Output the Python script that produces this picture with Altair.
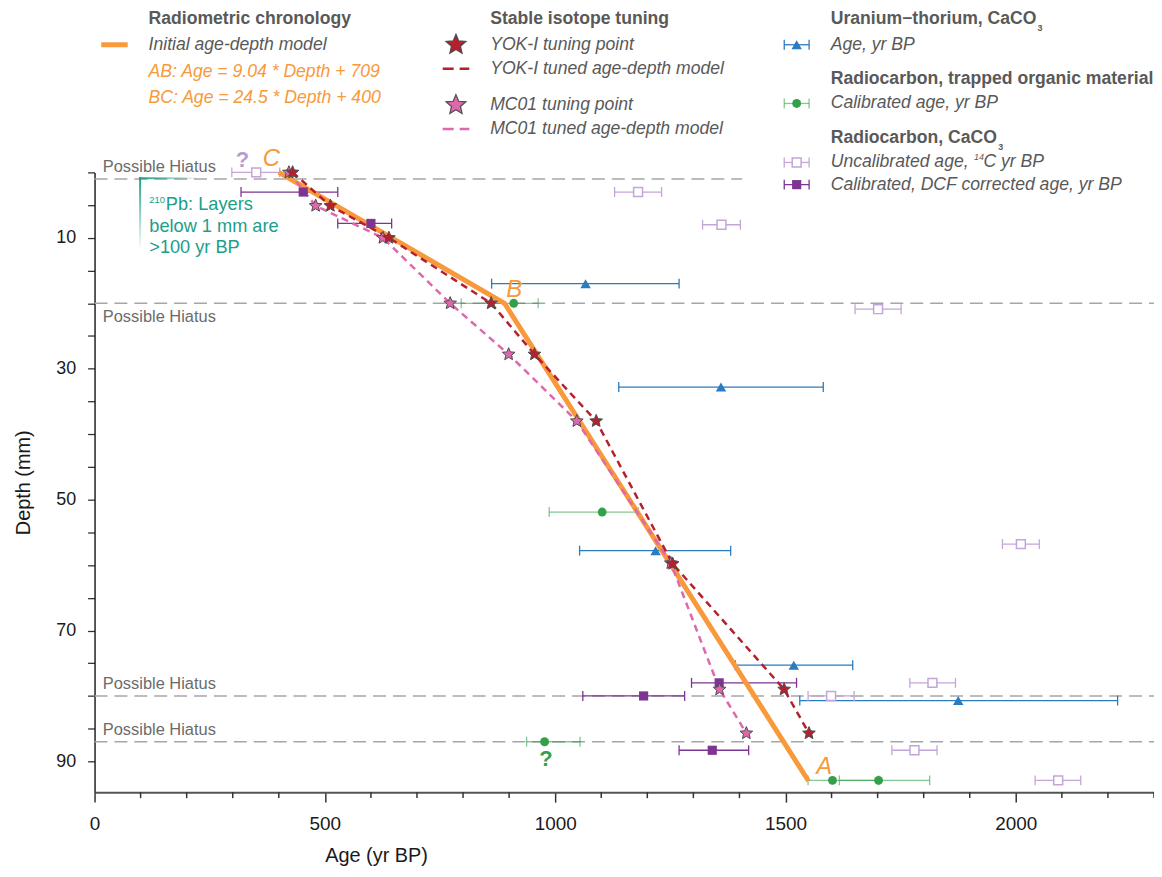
import math
import altair as alt
import pandas as pd

FONT = "Liberation Sans"
GRAY = "#595959"
ORANGE = "#F8993C"
RED = "#B61F2E"
PINK = "#DF68AC"
BLUE = "#2A7BC0"
GREEN = "#33A04A"
LILAC = "#C4A5D8"
PURPLE = "#7D3592"
TEAL = "#1B9E8A"
HIATUS = "#A6A6A6"
STAR_EDGE = "#4d4d4d"

# ---------------- data ----------------
model_age = [400, 890, 1550]
model_depth = [0, 20, 93]

yok_age = [430, 512, 639, 861, 955, 1089, 1255, 1497, 1551]
yok_depth = [0, 5.1, 10, 20, 27.8, 38, 59.8, 79, 85.7]

mc_age = [422, 480, 626, 772, 899, 1047, 1251, 1357, 1415]
mc_depth = [0, 5.1, 10, 20, 27.8, 38, 59.7, 79, 85.7]

uth_age = [1066, 1360, 1218, 1518, 1875]
uth_depth = [17, 32.8, 57.8, 75.3, 80.7]
uth_lo = [862, 1138, 1053, 1391, 1531]
uth_hi = [1269, 1582, 1381, 1646, 2221]

org_age = [910, 1102, 977, 1602, 1702]
org_depth = [20, 51.9, 87, 92.9, 92.9]
org_lo = [796, 987, 938, 1549, 1617]
org_hi = [963, 1180, 1054, 1702, 1813]

unc_age = [351, 1180, 1361, 1701, 2011, 1819, 1599, 1780, 2092]
unc_depth = [0, 3, 8, 20.9, 56.8, 78, 80, 88.3, 92.9]
unc_lo = [298, 1129, 1320, 1651, 1971, 1770, 1549, 1731, 2042]
unc_hi = [402, 1231, 1402, 1751, 2051, 1869, 1649, 1829, 2141]

dcf_age = [453, 600, 1356, 1192, 1341]
dcf_depth = [3, 7.8, 78, 80, 88.3]
dcf_lo = [318, 528, 1296, 1060, 1269]
dcf_hi = [528, 645, 1524, 1281, 1420]

hiatus_depth = [1, 20, 80, 87]
hiatus_end = [1406, 2300, 2300, 2300]
hiatus_side = ["above", "below", "above", "above"]

letter_text = ["C", "B", "A"]
letter_age = [384, 911, 1584]
letter_depth = [-2.0, 17.9, 90.8]

q_age = [321, 980]
q_depth = [-1.9, 89.6]

x_major = [0, 500, 1000, 1500, 2000]
x_minor = [100, 200, 300, 400, 600, 700, 800, 900, 1100, 1200, 1300, 1400,
           1600, 1700, 1800, 1900, 2100, 2200, 2300]
y_ticks = [0, 5, 10, 15, 20, 25, 30, 35, 40, 45, 50, 55, 60, 65, 70, 75, 80, 85, 90]


def star_path(inner=0.45):
    pts = []
    for k in range(10):
        r = 1.0 if k % 2 == 0 else inner
        a = math.radians(-90 + 36 * k)
        pts.append(f"{r * math.cos(a):.4f},{r * math.sin(a):.4f}")
    return "M" + "L".join(pts) + "Z"


STAR = star_path()

W, H = 1065, 623
xs = alt.Scale(domain=[0, 2300], nice=False, zero=False)
ys = alt.Scale(domain=[0, 94.7], nice=False, zero=False, reverse=True)

xaxis = alt.Axis(values=x_major, format="d", title="Age (yr BP)", tickSize=10, tickWidth=1.5,
                 tickColor="#333333", domainColor="#555555", domainWidth=2,
                 labelFont=FONT, labelFontSize=19, labelColor="#1a1a1a", labelPadding=12.5,
                 labelFlush=False, labelOverlap=False, grid=False,
                 titleFont=FONT, titleFontSize=20, titleFontWeight="normal",
                 titleColor="#1a1a1a", titleX=283, titleY=64,
                 titleBaseline="middle", titleAlign="center")
yaxis = alt.Axis(values=y_ticks, labelExpr="datum.value % 20 == 10 ? datum.label : ''",
                 title="Depth (mm)", tickSize=7, tickWidth=1.3, tickColor="#333333",
                 domainColor="#222222", domainWidth=1.5,
                 labelFont=FONT, labelFontSize=18, labelColor="#1a1a1a", labelPadding=12,
                 labelFlush=False, labelOverlap=False, grid=False,
                 titleFont=FONT, titleFontSize=20, titleFontWeight="normal",
                 titleColor="#1a1a1a", titleX=-71, titleY=311.5, titleAngle=270,
                 titleBaseline="middle", titleAlign="center")


def X(f):
    return alt.X(f, type="quantitative", scale=xs, axis=xaxis)


def Y(f):
    return alt.Y(f, type="quantitative", scale=ys, axis=yaxis)


layers = []

# hiatus lines
df_h = pd.DataFrame({"depth": hiatus_depth, "end": hiatus_end, "side": hiatus_side,
                     "start": [0] * len(hiatus_depth)})
layers.append(alt.Chart(df_h).mark_rule(color=HIATUS, strokeWidth=1.5, strokeDash=[13, 7])
              .encode(x=X("start"), x2="end", y=Y("depth")))
layers.append(alt.Chart(df_h).transform_filter("datum.side == 'above'")
              .mark_text(text="Possible Hiatus", font=FONT, fontSize=16.5, color="#6b6b6b",
                         align="left", baseline="alphabetic", dy=-6.5)
              .encode(x=alt.value(8.3), y=Y("depth")))
layers.append(alt.Chart(df_h).transform_filter("datum.side == 'below'")
              .mark_text(text="Possible Hiatus", font=FONT, fontSize=16.5, color="#6b6b6b",
                         align="left", baseline="alphabetic", dy=19)
              .encode(x=alt.value(8.3), y=Y("depth")))

# minor x ticks
df_minor = pd.DataFrame({"v": x_minor})
layers.append(alt.Chart(df_minor).mark_rule(color="#333333", strokeWidth=1.5)
              .encode(x=X("v"), y=alt.value(H), y2=alt.value(H + 6)))


def errbars(age, depth, lo, hi, color, opacity=1.0):
    df = pd.DataFrame({"age": age, "depth": depth, "lo": lo, "hi": hi})
    r = (alt.Chart(df).mark_rule(color=color, strokeWidth=1.3, opacity=opacity)
         .encode(x=X("lo"), x2="hi", y=Y("depth")))
    c = (alt.Chart(df).transform_fold(["lo", "hi"], as_=["end", "val"])
         .mark_tick(orient="vertical", color=color, size=10, thickness=1.3, opacity=opacity)
         .encode(x=X("val"), y=Y("depth")))
    return df, [r, c]


df_uth, l = errbars(uth_age, uth_depth, uth_lo, uth_hi, BLUE)
layers += l
df_org, l = errbars(org_age, org_depth, org_lo, org_hi, GREEN, 0.6)
layers += l
df_unc, l = errbars(unc_age, unc_depth, unc_lo, unc_hi, LILAC)
layers += l
df_dcf, l = errbars(dcf_age, dcf_depth, dcf_lo, dcf_hi, PURPLE)
layers += l

# age-depth models
df_model = pd.DataFrame({"age": model_age, "depth": model_depth})
layers.append(alt.Chart(df_model).mark_line(color=ORANGE, strokeWidth=5)
              .encode(x=X("age"), y=Y("depth")))
df_mc = pd.DataFrame({"age": mc_age, "depth": mc_depth})
df_yok = pd.DataFrame({"age": yok_age, "depth": yok_depth})
layers.append(alt.Chart(df_mc).mark_line(color=PINK, strokeWidth=2.5, strokeDash=[7, 5])
              .encode(x=X("age"), y=Y("depth")))
layers.append(alt.Chart(df_yok).mark_line(color=RED, strokeWidth=2.5, strokeDash=[7, 5])
              .encode(x=X("age"), y=Y("depth")))

# point markers
layers.append(alt.Chart(df_uth).mark_point(shape="triangle-up", filled=True, color=BLUE,
                                           size=110, opacity=1)
              .encode(x=X("age"), y=Y("depth")))
layers.append(alt.Chart(df_org).mark_circle(color=GREEN, size=80, opacity=1)
              .encode(x=X("age"), y=Y("depth")))
layers.append(alt.Chart(df_unc).mark_square(fill="white", stroke=LILAC, strokeWidth=1.5,
                                            size=80, opacity=1)
              .encode(x=X("age"), y=Y("depth")))
layers.append(alt.Chart(df_dcf).mark_square(color=PURPLE, size=85, opacity=1)
              .encode(x=X("age"), y=Y("depth")))
layers.append(alt.Chart(df_mc).mark_point(shape=STAR, filled=True, fill=PINK, stroke=STAR_EDGE,
                                          strokeWidth=1, size=180, opacity=1)
              .encode(x=X("age"), y=Y("depth")))
layers.append(alt.Chart(df_yok).mark_point(shape=STAR, filled=True, fill=RED, stroke=STAR_EDGE,
                                           strokeWidth=1, size=180, opacity=1)
              .encode(x=X("age"), y=Y("depth")))

# annotation letters and question marks
df_let = pd.DataFrame({"t": letter_text, "age": letter_age, "depth": letter_depth})
layers.append(alt.Chart(df_let).mark_text(font=FONT, fontSize=24, fontStyle="italic",
                                          color=ORANGE, baseline="middle", align="center")
              .encode(x=X("age"), y=Y("depth"), text="t"))
df_q = pd.DataFrame({"age": q_age, "depth": q_depth, "c": ["#B89BD0", GREEN]})
layers.append(alt.Chart(df_q).mark_text(text="?", font=FONT, fontSize=22, fontWeight="bold",
                                        baseline="middle", align="center")
              .encode(x=X("age"), y=Y("depth"), color=alt.Color("c", scale=None)))

# ---------------- 210Pb annotation & legend (pixel placed decorations) ----------------
one = pd.DataFrame({"k": [0]})


def txt(s, x, y, size=17.7, color=GRAY, weight="normal", style="normal"):
    return (alt.Chart(one).mark_text(text=s, font=FONT, fontSize=size, fontWeight=weight,
                                     fontStyle=style, color=color, align="left",
                                     baseline="middle")
            .encode(x=alt.value(x), y=alt.value(y)))


def hline(x1, x2, y, color, width, dash=None):
    kw = dict(color=color, strokeWidth=width)
    if dash:
        kw["strokeDash"] = dash
    return alt.Chart(one).mark_rule(**kw).encode(x=alt.value(x1), x2=alt.value(x2), y=alt.value(y))


def sym(x, y, shape, size, fill, stroke=None, sw=1):
    kw = dict(shape=shape, size=size, filled=True, fill=fill, opacity=1)
    if stroke:
        kw["stroke"] = stroke
        kw["strokeWidth"] = sw
    return alt.Chart(one).mark_point(**kw).encode(x=alt.value(x), y=alt.value(y))


# 210Pb bracket with fading lines
grad_h = alt.LinearGradient(gradient="linear", x1=0, x2=1, y1=0, y2=0,
                            stops=[alt.GradientStop(color=TEAL, offset=0),
                                   alt.GradientStop(color="rgba(27,158,138,0)", offset=1)])
grad_v = alt.LinearGradient(gradient="linear", x1=0, x2=0, y1=0, y2=1,
                            stops=[alt.GradientStop(color=TEAL, offset=0),
                                   alt.GradientStop(color="rgba(27,158,138,0)", offset=1)])
layers.append(alt.Chart(one).mark_rect(fill=grad_h).encode(
    x=alt.value(44.8), x2=alt.value(106), y=alt.value(4.8), y2=alt.value(6.8)))
layers.append(alt.Chart(one).mark_rect(fill=grad_v).encode(
    x=alt.value(44.8), x2=alt.value(46.8), y=alt.value(4.8), y2=alt.value(78)))
layers.append(txt("210", 55, 27.8, size=9.5, color=TEAL))
layers.append(txt("Pb: Layers", 71.7, 33, size=18.3, color=TEAL))
layers.append(txt("below 1 mm are", 55, 55, size=18.3, color=TEAL))
layers.append(txt(">100 yr BP", 55, 76.3, size=18.3, color=TEAL))

# legend column 1
layers.append(txt("Radiometric chronology", 54.3, -154.3, weight="bold"))
layers.append(hline(6.7, 33.3, -128.3, ORANGE, 5))
layers.append(txt("Initial age-depth model", 54.3, -128.3, style="italic"))
layers.append(txt("AB: Age = 9.04 * Depth + 709", 54.3, -101, color=ORANGE, style="italic"))
layers.append(txt("BC: Age = 24.5 * Depth + 400", 54.3, -74.3, color=ORANGE, style="italic"))

# legend column 2
layers.append(txt("Stable isotope tuning", 397.7, -154.3, weight="bold"))
layers.append(sym(363.3, -128.3, STAR, 440, RED, STAR_EDGE, 1.2))
layers.append(txt("YOK-I tuning point", 397.7, -128.3, style="italic"))
layers.append(hline(350, 376.7, -104.3, RED, 2.5, [11, 6]))
layers.append(txt("YOK-I tuned age-depth model", 397.7, -104.3, style="italic"))
layers.append(sym(363.3, -67.7, STAR, 440, PINK, STAR_EDGE, 1.2))
layers.append(txt("MC01 tuning point", 397.7, -67.7, style="italic"))
layers.append(hline(350, 376.7, -43.7, PINK, 2.5, [11, 6]))
layers.append(txt("MC01 tuned age-depth model", 397.7, -43.7, style="italic"))


# legend column 3
def bar_sample(y, color, opacity=1.0):
    out = []
    out.append(alt.Chart(one).mark_rule(color=color, strokeWidth=1.3, opacity=opacity).encode(
        x=alt.value(693.3), x2=alt.value(718.3), y=alt.value(y)))
    for xx in (693.3, 718.3):
        out.append(alt.Chart(one).mark_rule(color=color, strokeWidth=1.3, opacity=opacity).encode(
            x=alt.value(xx), y=alt.value(y - 5), y2=alt.value(y + 5)))
    return out


layers.append(txt("Uranium\u2212thorium, CaCO", 740, -154.3, weight="bold"))
layers.append(txt("3", 948, -145.5, size=9, weight="bold"))
layers += bar_sample(-128.3, BLUE)
layers.append(sym(705.8, -128.3, "triangle-up", 110, BLUE))
layers.append(txt("Age, yr BP", 740, -128.3, style="italic"))

layers.append(txt("Radiocarbon, trapped organic material", 740, -93.7, weight="bold"))
layers += bar_sample(-69.3, GREEN, 0.6)
layers.append(alt.Chart(one).mark_circle(color=GREEN, size=80, opacity=1).encode(
    x=alt.value(705.8), y=alt.value(-69.3)))
layers.append(txt("Calibrated age, yr BP", 740, -69.3, style="italic"))

layers.append(txt("Radiocarbon, CaCO", 740, -35, weight="bold"))
layers.append(txt("3", 908.5, -26, size=9, weight="bold"))
layers += bar_sample(-10, LILAC)
layers.append(alt.Chart(one).mark_square(fill="white", stroke=LILAC, strokeWidth=1.5, size=80,
                                         opacity=1).encode(x=alt.value(705.8), y=alt.value(-10)))
layers.append(txt("Uncalibrated age,", 740, -10, style="italic"))
layers.append(txt("14", 884, -15, size=9, style="italic"))
layers.append(txt("C yr BP", 893.5, -10, style="italic"))
layers += bar_sample(12.3, PURPLE)
layers.append(alt.Chart(one).mark_square(color=PURPLE, size=85, opacity=1).encode(
    x=alt.value(705.8), y=alt.value(12.3)))
layers.append(txt("Calibrated, DCF corrected age, yr BP", 740, 12.3, style="italic"))

chart = (alt.layer(*layers)
         .properties(width=W, height=H,
                     padding={"left": 87, "top": 163, "right": 0, "bottom": 76},
                     autosize=alt.AutoSizeParams(type="none"),
                     background="white")
         .configure_view(stroke=None))

chart.save("out.html", embed_options={"renderer": "svg", "actions": False})
